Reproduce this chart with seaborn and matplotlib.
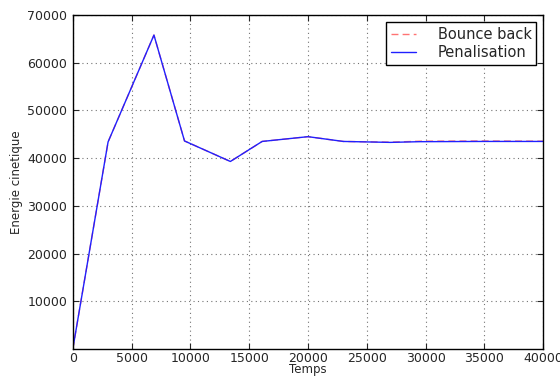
import matplotlib
matplotlib.use("Agg")
import matplotlib.pyplot as plt
import seaborn as sns
import pandas as pd

# Kinetic energy over time for the two boundary treatments
temps = [0, 3000, 6900, 9500, 13400, 16100, 20000, 23000, 27000, 29500, 35000, 40000]
bounce_back = [0, 43400, 65800, 43600, 39300, 43500, 44500, 43500, 43350, 43550, 43600, 43550]
penalisation = [0, 43400, 65800, 43600, 39300, 43500, 44500, 43500, 43300, 43450, 43500, 43500]

x_ticks = [0, 5000, 10000, 15000, 20000, 25000, 30000, 35000, 40000]
y_ticks = [10000, 20000, 30000, 40000, 50000, 60000, 70000]

df = pd.concat([
    pd.DataFrame({"Temps": temps, "E": bounce_back, "serie": "Bounce back"}),
    pd.DataFrame({"Temps": temps, "E": penalisation, "serie": "Penalisation"}),
])

sns.set_style("white")
plt.rcParams["font.family"] = ["DejaVu Sans"]

fig = plt.figure(figsize=(5.6, 3.76), dpi=100)
ax = fig.add_axes([0.130, 0.072, 0.840, 0.888])

sns.lineplot(data=df[df.serie == "Bounce back"], x="Temps", y="E", ax=ax,
             color=(1.0, 0.45, 0.45), linestyle=(0, (5, 3)), linewidth=1.0,
             label="Bounce back", estimator=None, sort=False)
sns.lineplot(data=df[df.serie == "Penalisation"], x="Temps", y="E", ax=ax,
             color="#2020ff", linewidth=1.0, label="Penalisation",
             estimator=None, sort=False)

ax.set_xlim(0, 40000)
ax.set_ylim(0, 70000)
ax.set_xticks(x_ticks)
ax.set_yticks(y_ticks)
ax.tick_params(direction="in", length=4, width=0.8, labelsize=9,
               top=True, right=True, bottom=True, left=True)
ax.tick_params(axis="x", pad=2)
ax.tick_params(axis="y", pad=4)
ax.grid(True, color="0.45", linestyle=(0, (1, 3)), linewidth=0.8)
for s in ax.spines.values():
    s.set_color("black")
    s.set_linewidth(1.0)

ax.set_xlabel("Temps", fontsize=8.5, labelpad=-1)
ax.set_ylabel("Energie cinetique", fontsize=8.5, labelpad=3)

leg = ax.legend(loc="upper right", fontsize=10.5, fancybox=False, framealpha=1,
                edgecolor="black", handlelength=1.7, borderpad=0.3,
                labelspacing=0.25, handletextpad=1.5, borderaxespad=0.5)
leg.get_frame().set_linewidth(1.0)

fig.savefig("out.png", dpi=100)
